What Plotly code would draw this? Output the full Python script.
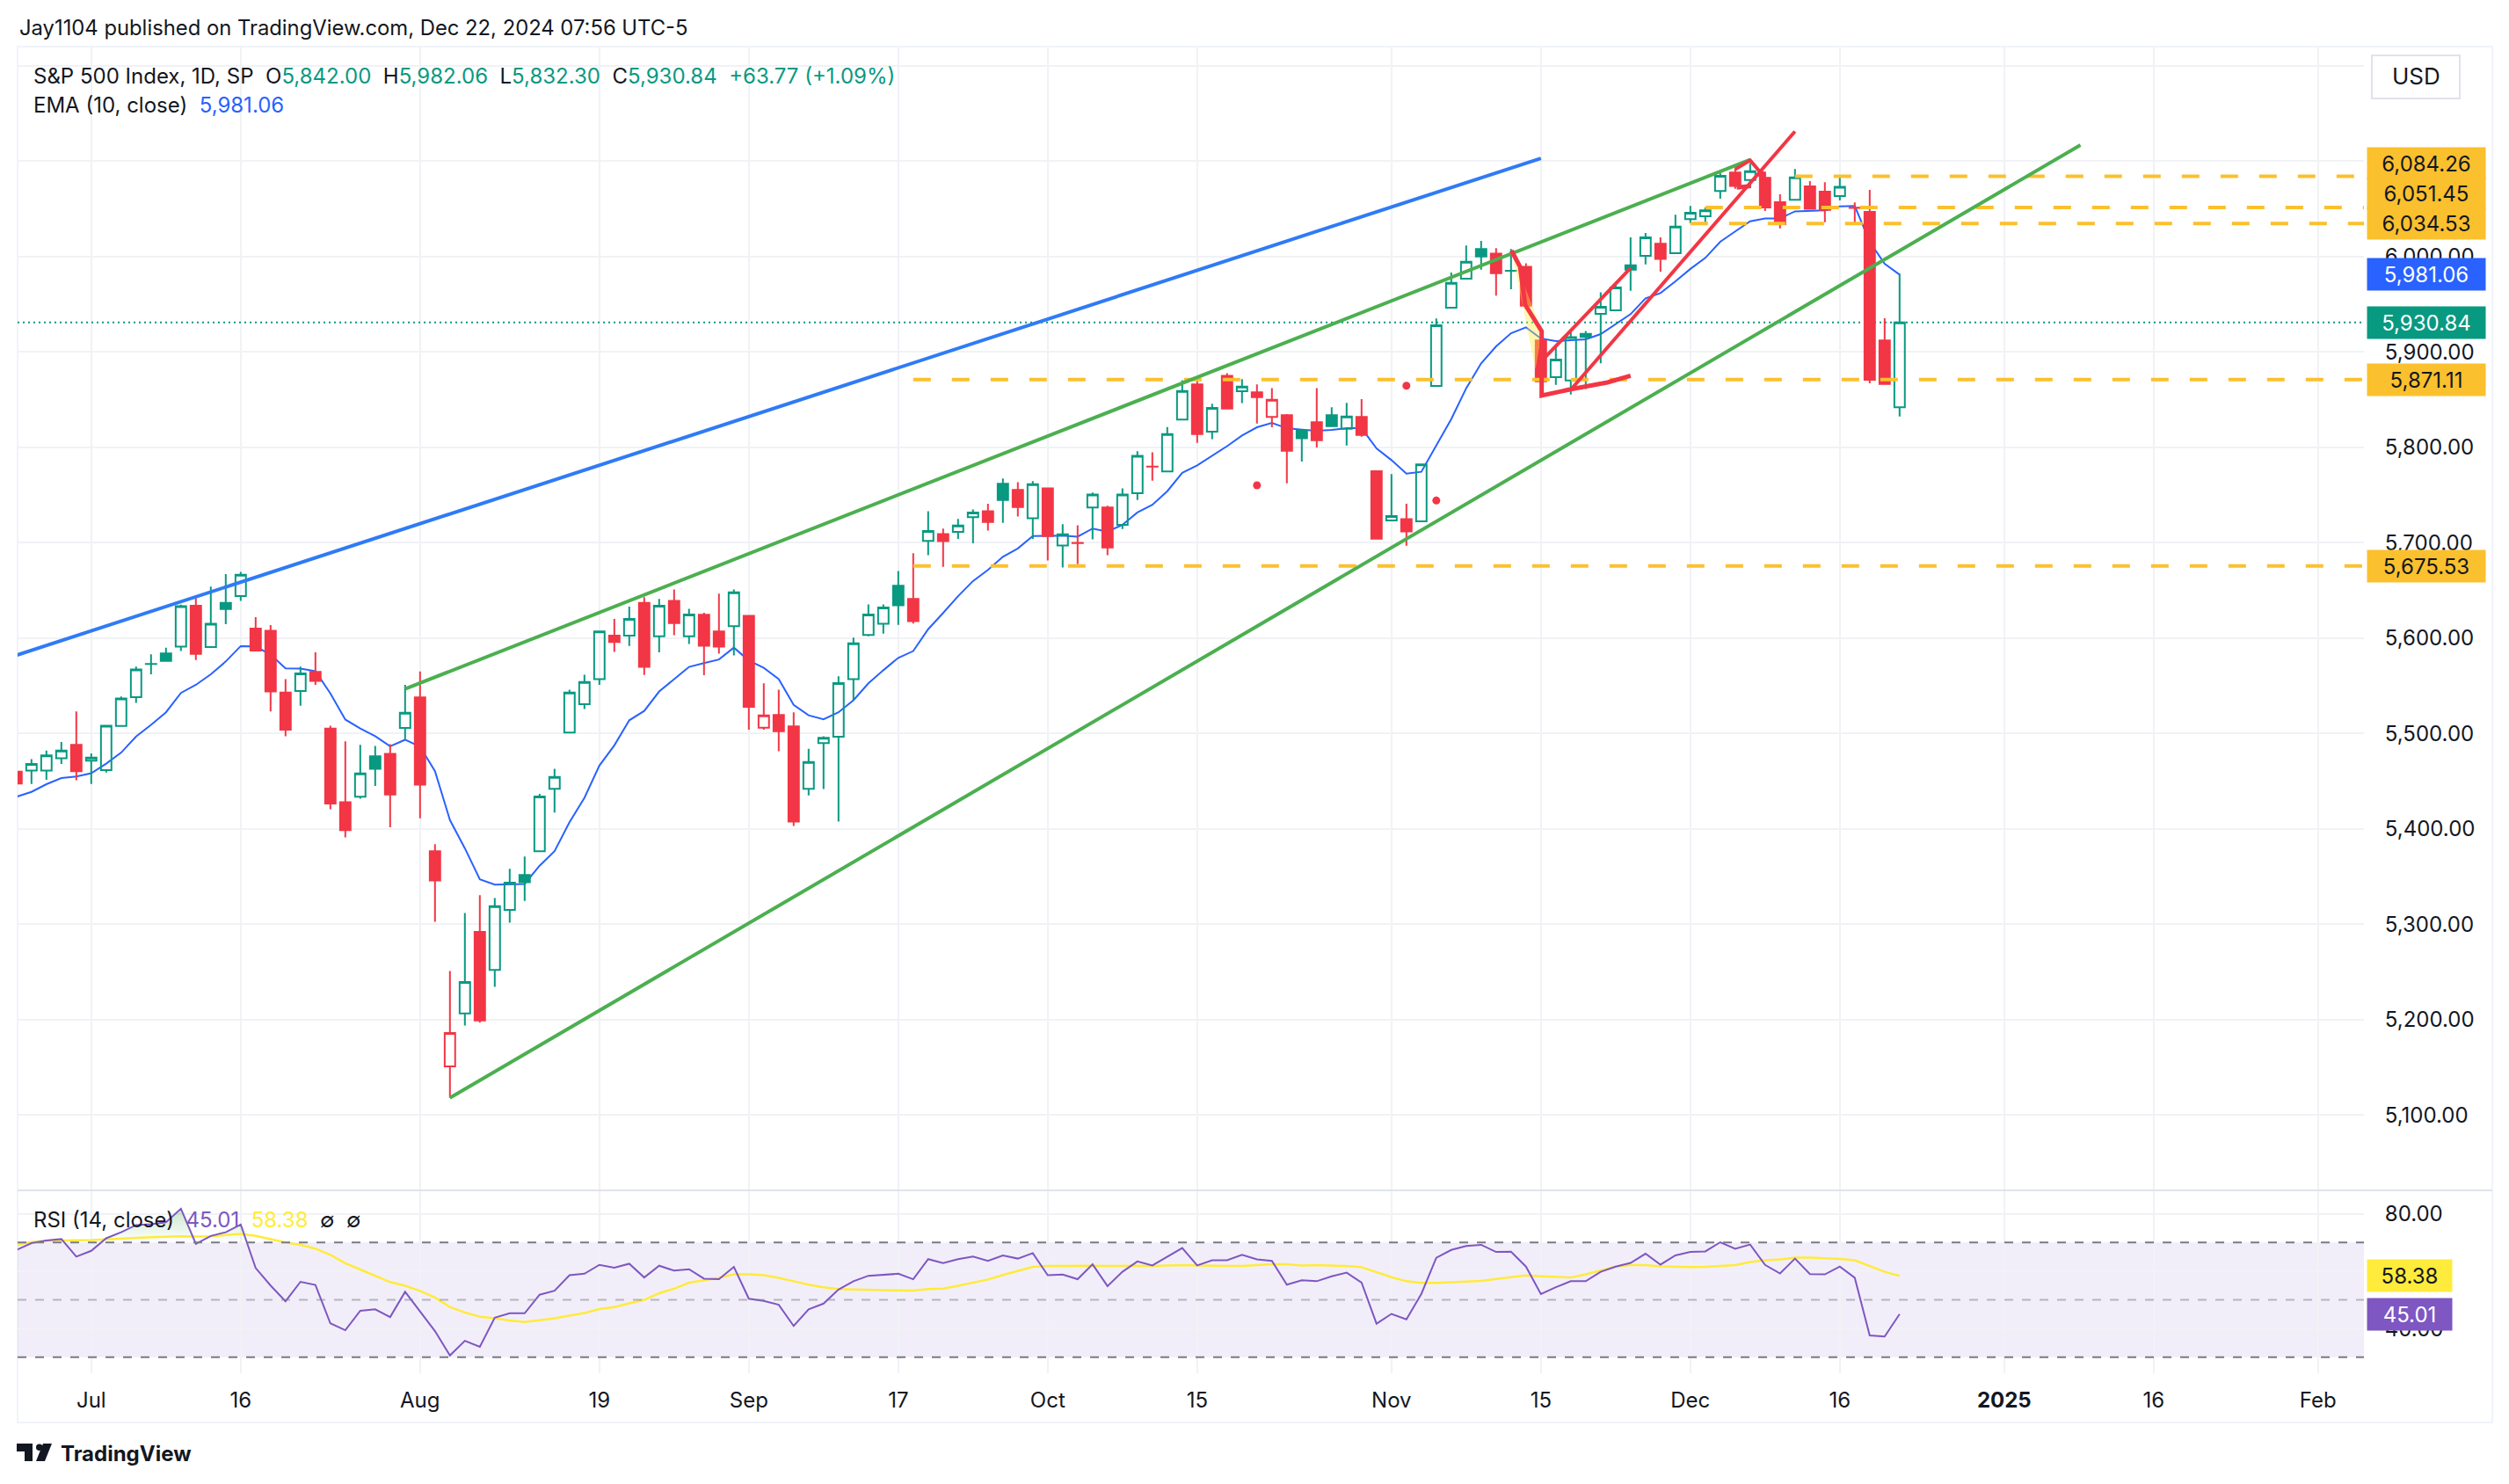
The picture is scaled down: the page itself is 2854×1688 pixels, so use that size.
import numpy as np
import plotly.graph_objects as go

W, H = 2854, 1688

# bar number: 0 is Jul 1 2024, trading days only, 121 is Dec 20
bars = list(range(-5, 122))
opens = [
    5460, 5461, 5461, 5474, 5488, 5471.4, 5461.6, 5507.8, 5538, 5572.8,
    5584, 5591, 5634, 5590.7, 5637, 5644, 5610, 5607.7, 5543, 5544.6,
    5564.5, 5505, 5428, 5433.7, 5476, 5478.6, 5505.7, 5537.8, 5376.6, 5151,
    5206.5, 5292, 5252, 5315, 5351.6, 5376.6, 5442, 5501, 5530.6, 5557,
    5602.6, 5602.6, 5637, 5602, 5639, 5602, 5624.5, 5606.9, 5612.5, 5623.4,
    5506, 5519.4, 5507.4, 5442, 5489.8, 5496.5, 5557, 5603.3, 5615, 5654.8,
    5641, 5702, 5709, 5711.3, 5726.8, 5733, 5761.7, 5755.3, 5725.7, 5757,
    5697, 5699.7, 5737, 5737, 5718.7, 5751.8, 5779.8, 5774.7, 5829, 5866,
    5816.4, 5874.9, 5858.7, 5857.6, 5831.8, 5833.6, 5817.3, 5826.2, 5833.6, 5819.5,
    5831.8, 5774.9, 5723.3, 5724.8, 5722.4, 5864.3, 5946.3, 5976.8, 6007.8, 6003,
    5985.1, 5989.3, 5912, 5873.5, 5870.2, 5919, 5939.9, 5943.6, 5990.9, 6000.7,
    6013.3, 6003.5, 6039.2, 6042.2, 6068.6, 6088, 6080.3, 6082.5, 6057, 6059.4,
    6073.6, 6068, 6063.4, 6051.1, 6046.8, 5912, 5842,
]
highs = [
    5462, 5473, 5482, 5491, 5523, 5479, 5509, 5538.7, 5570, 5583,
    5590, 5635, 5642, 5654, 5667, 5669.5, 5622, 5613.6, 5557, 5570,
    5585, 5508, 5491.7, 5488, 5487, 5488.7, 5551, 5565, 5383.8, 5251,
    5311.8, 5330.5, 5327.5, 5358, 5371, 5436.7, 5463, 5546, 5561.5, 5607,
    5620, 5633, 5642.8, 5641, 5651, 5630.8, 5626.6, 5646.7, 5651, 5623.4,
    5552.5, 5545.8, 5522.2, 5484, 5497, 5560, 5600.5, 5635.4, 5635.4, 5670.3,
    5689, 5733, 5714.8, 5725, 5734.9, 5740.9, 5767.3, 5763.5, 5764.5, 5757,
    5719.4, 5718.3, 5752.5, 5738.8, 5757, 5796, 5794.8, 5821.3, 5870.3, 5869.6,
    5845.6, 5877.7, 5871.4, 5866, 5862, 5834.8, 5817.3, 5862, 5841.9, 5846.5,
    5850.5, 5774.9, 5771.9, 5740.8, 5782.9, 5935, 5983.2, 6011.5, 6016.4, 6008.7,
    6007.8, 5993, 5915, 5907.3, 5922.7, 5922, 5962.6, 5971.5, 6020, 6024.7,
    6020, 6043.8, 6053, 6051.4, 6087.7, 6092.3, 6097.8, 6089, 6065.3, 6091.7,
    6079, 6077.9, 6084.6, 6056.7, 6069.9, 5935.3, 5982.06,
]
lows = [
    5441, 5447, 5451.5, 5468, 5451, 5447, 5459, 5507.8, 5532, 5562,
    5575.5, 5586.5, 5577, 5590, 5614.5, 5639, 5586, 5523, 5497, 5529,
    5551, 5420.6, 5391, 5431.6, 5445, 5401.6, 5494, 5411, 5302.5, 5118,
    5193.8, 5196.7, 5234.4, 5301.7, 5324.5, 5376.6, 5417, 5501, 5525.6, 5551,
    5585.6, 5591.7, 5561.3, 5585, 5603, 5593.8, 5561, 5583.6, 5581.8, 5504,
    5504, 5481.3, 5403, 5435, 5441.8, 5407.6, 5535, 5602, 5604.7, 5613.9,
    5615.3, 5687, 5674.6, 5704, 5699.3, 5712.7, 5720.8, 5727.5, 5704, 5681.3,
    5673.9, 5677.4, 5703.5, 5686.9, 5714.4, 5744.8, 5765, 5774.7, 5829, 5804.7,
    5808.6, 5840.7, 5846.3, 5825, 5821, 5762.3, 5785, 5799.8, 5822.2, 5802,
    5811.2, 5703.7, 5723.3, 5696.9, 5722.4, 5864.3, 5946.3, 5976.8, 5986.3, 5959,
    5965.7, 5948.5, 5853, 5865.5, 5855.4, 5861.2, 5888, 5943.6, 5964.2, 5991.8,
    5984.1, 6003.5, 6034.9, 6033, 6060.7, 6071, 6072, 6047.8, 6029.6, 6059.4,
    6050, 6036.1, 6058.8, 6034.9, 5867.1, 5866.5, 5832.3,
]
closes = [
    5447.6, 5468, 5477, 5482, 5460.4, 5474.8, 5508, 5536.6, 5567, 5572.9,
    5576, 5633.5, 5583.5, 5615, 5630.5, 5666.5, 5587, 5544, 5504, 5563,
    5555, 5426.5, 5398.6, 5458, 5463, 5436, 5521.7, 5446.4, 5346, 5186,
    5239.5, 5199, 5319, 5343.6, 5344, 5434, 5454.5, 5543, 5554, 5607,
    5596, 5620, 5569.8, 5634, 5615.7, 5624.8, 5592, 5591, 5648, 5528,
    5519, 5502.4, 5407.6, 5470, 5495.4, 5552.9, 5594.5, 5624.8, 5632, 5634.4,
    5617.8, 5712.3, 5701.7, 5718, 5731.7, 5721.8, 5744.8, 5737.3, 5761.3, 5707,
    5708.8, 5699.5, 5750.4, 5695, 5750.4, 5791, 5779.7, 5813.9, 5859, 5813.9,
    5841.4, 5840.7, 5863.6, 5852.6, 5849.9, 5796.4, 5809.6, 5807.5, 5822.2, 5832.4,
    5813, 5704.3, 5727.9, 5711.9, 5782, 5927.9, 5972.5, 5994.6, 6000, 5982.6,
    5985, 5948.5, 5869.2, 5892, 5915.6, 5915.8, 5947.3, 5967.5, 5986.3, 6020,
    5997.6, 6031.5, 6045.9, 6048.4, 6084.6, 6073.9, 6089.5, 6051.4, 6034, 6083,
    6050, 6049, 6073, 6051, 5870.8, 5866.5, 5930.84,
]
ema10 = [
    5433.7, 5438.8, 5446.8, 5453.2, 5454.9, 5458.3, 5468.4, 5479.9, 5496.8, 5509,
    5522.2, 5542.5, 5551, 5562, 5575.5, 5591.6, 5591.2, 5582.7, 5568.3, 5567.9,
    5565.3, 5542, 5514.6, 5505.2, 5497.2, 5486.6, 5493.4, 5486.2, 5460.4, 5409.2,
    5379.6, 5347, 5341.5, 5341.9, 5342.3, 5361.4, 5376.6, 5407, 5432.5, 5466.3,
    5487.5, 5513.8, 5523.6, 5544, 5557, 5569.8, 5573.7, 5577.6, 5590, 5576.5,
    5568.8, 5557, 5530, 5519, 5514.8, 5522.2, 5534.9, 5552.5, 5566.3, 5579.3,
    5586.4, 5609.3, 5626.3, 5643.9, 5659.8, 5671.4, 5685.2, 5694, 5707, 5707.4,
    5707.4, 5706.3, 5714.8, 5711.6, 5718.7, 5731.7, 5739.8, 5754, 5773.3, 5781,
    5791, 5801.2, 5812.4, 5821, 5825.6, 5820, 5818.5, 5817.3, 5818.2, 5820,
    5820, 5798.9, 5786.6, 5772.5, 5774.3, 5802, 5829.6, 5861.9, 5888, 5905.8,
    5919.6, 5925.8, 5914, 5911.3, 5912.2, 5913.2, 5918.7, 5929.4, 5939.6, 5956.2,
    5961.7, 5974, 5987, 5998.6, 6015.5, 6026.3, 6037, 6040, 6040, 6047.4,
    6048, 6048.4, 6052.7, 6053, 6015.5, 5992.5, 5981.06,
]
rsi14 = [
    67.4, 69.8, 70.7, 71.2, 65.1, 67.1, 71.5, 73.6, 76.1, 76.4,
    77.1, 81.8, 69.5, 72.3, 73.6, 76.3, 61.1, 55, 49.5, 56.3,
    55.2, 41.8, 39.4, 46.2, 46.7, 44, 52.8, 46, 39.1, 30.6,
    35.7, 33.6, 43.8, 45.3, 45.3, 51.8, 53.2, 58.6, 59.1, 62.2,
    61.2, 62.6, 57.8, 61.9, 60.2, 60.7, 57.4, 57.2, 61.5, 50.4,
    49.6, 48.3, 40.9, 46.7, 48.7, 53.6, 56.5, 58.4, 58.8, 59.1,
    57.2, 64.2, 62.8, 64.2, 65.1, 63.6, 65.5, 64.4, 66.3, 58.6,
    58.8, 57.2, 62.4, 54.8, 59.8, 63.4, 62, 65.1, 68.1, 62,
    63.8, 63.8, 65.7, 64.1, 63.6, 55.3, 56.8, 56.5, 58.2, 59.5,
    56, 41.7, 45.1, 43.2, 52.1, 64.7, 67.4, 68.8, 69.2, 66.7,
    66.8, 61.6, 52, 54.4, 56.5, 56.5, 59.8, 61.6, 62.9, 66.1,
    62.3, 65.5, 66.7, 66.9, 70.1, 67.8, 69.3, 62.2, 59.2, 64.4,
    59, 58.9, 61.6, 57.7, 37.6, 37.2, 45.01,
]
rsi_ma = [
    69.2, 70.2, 70.6, 70.8, 70.8, 70.9, 71.2, 71.5, 71.7, 71.9,
    72, 72.2, 72.1, 72.2, 72.6, 73, 72.3, 71.2, 70, 69.2,
    67.9, 65.7, 62.8, 60.6, 58.5, 56.2, 54.9, 53.1, 50.8, 47.5,
    45.6, 44.1, 43.6, 42.8, 42.3, 42.9, 43.6, 44.5, 45.4, 46.8,
    47.5, 48.8, 50, 52.3, 53.9, 56, 56.9, 57.7, 58.9, 58.9,
    58.6, 57.7, 56.5, 55.3, 54.4, 53.8, 53.6, 53.5, 53.5, 53.2,
    53.2, 53.8, 53.9, 54.9, 56, 57.1, 58.7, 60.2, 61.5, 61.8,
    61.9, 61.8, 61.9, 61.8, 61.9, 61.9, 61.8, 62, 62.1, 62,
    61.8, 61.8, 61.8, 62.1, 62.4, 62.4, 62, 62.1, 62, 61.8,
    61.4, 59.6, 57.9, 56.5, 55.9, 55.9, 56.1, 56.3, 56.6, 57.3,
    57.9, 58.5, 58.2, 57.9, 57.8, 58.9, 60.2, 61.6, 62.1, 62.1,
    61.7, 61.5, 61.4, 61.5, 61.8, 62.1, 63.2, 63.8, 64.1, 64.7,
    64.7, 64.5, 64.3, 63.8, 61.8, 59.8, 58.38,
]

price_ticks = [5100, 5200, 5300, 5400, 5500, 5600, 5700, 5800, 5900, 6000, 6100, 6200]
price_tick_text = ["5,100.00", "5,200.00", "5,300.00", "5,400.00", "5,500.00", "5,600.00",
                   "5,700.00", "5,800.00", "5,900.00", "6,000.00", "", ""]
rsi_ticks = [40, 60, 80]
rsi_tick_text = ["40.00", "60.00", "80.00"]
time_ticks = [0, 10, 22, 34, 44, 54, 64, 74, 87, 97, 107, 117, 128, 138, 149]
time_tick_text = ["Jul", "16", "Aug", "19", "Sep", "17", "Oct", "15", "Nov", "15", "Dec", "16",
                  "<b>2025</b>", "16", "Feb"]

# horizontal rays: price and the bar they start on
level_prices = [6084.26, 6051.45, 6034.53, 5871.11, 5675.53]
level_starts = [114, 108, 107, 55, 55]
last_close = 5930.84

# hand drawn trend lines
blue_x = [-5, 97]
blue_y = [5582, 6103]
green_top_x = [21, 111]
green_top_y = [5546.7, 6101.5]
green_low_x = [24, 133.1]
green_low_y = [5118, 6116.9]
red_fall_x = [95.03, 95.6, 95.95, 96.5, 97.05, 97.05, 99, 101.45, 103]
red_fall_y = [6006.3, 5989.4, 5949.4, 5935.6, 5921.8, 5854.2, 5860.9, 5868, 5875.1]
red_up_x = [97.27, 103]
red_up_y = [5894.2, 5987.9]
red_long_x = [99, 114]
red_long_y = [5860.4, 6131.2]
red_top_x = [110, 111, 111.8]
red_top_y = [6091.4, 6100.9, 6086.2]
red_dab_x = [110.1, 111.05]
red_dab_y = [6072.3, 6073.9]
red_dots_x = [78, 88, 90, 111.8]
red_dots_y = [5760.2, 5864.6, 5744.2, 6085.5]
yellow_x = [95.07, 96.64, 97.07]
yellow_y = [6003.2, 5881.8, 5921.8]

GREEN = "#089981"
RED = "#f23645"
BLUE = "#2962ff"
AMBER = "#fbc02d"
TEXT = "#131722"
GRID = "#f0f2f6"
FONT = "Inter"

X_MIN, X_MAX = (20 - 103.8) / 17, (2689 - 103.8) / 17


def px(x):
    return x / W


def py(y):
    return 1 - y / H


closes_arr = np.array(closes)
prev_close = np.concatenate(([opens[0] + 1], closes_arr[:-1]))
is_hollow = closes_arr > np.array(opens)
is_up = closes_arr >= prev_close

fig = go.Figure()

# EMA and last price go under the candles
fig.add_trace(go.Scatter(x=bars, y=ema10, mode="lines", zorder=-1, line=dict(color=BLUE, width=2)))
fig.add_trace(go.Scatter(x=[X_MIN, X_MAX], y=[last_close, last_close], mode="lines", zorder=-1,
                         line=dict(color=GREEN, width=2, dash="2px,4px")))

for hollow in (True, False):
    for up in (True, False):
        idx = np.where((is_hollow == hollow) & (is_up == up))[0]
        color = GREEN if up else RED
        side = dict(line=dict(color=color, width=2), fillcolor="rgba(0,0,0,0)" if hollow else color)
        fig.add_trace(go.Candlestick(
            x=[bars[i] for i in idx],
            open=[opens[i] for i in idx],
            high=[highs[i] for i in idx],
            low=[lows[i] for i in idx],
            close=[closes[i] for i in idx],
            increasing=side, decreasing=side, hoverinfo="skip",
        ))

for price, start in zip(level_prices, level_starts):
    fig.add_trace(go.Scatter(x=[start, X_MAX], y=[price, price], mode="lines",
                             line=dict(color=AMBER, width=4, dash="20px,24px")))

fig.add_trace(go.Scatter(x=yellow_x, y=yellow_y, mode="lines", fill="toself", line=dict(width=0),
                         fillcolor="rgba(255,235,59,0.4)"))
fig.add_trace(go.Scatter(x=blue_x, y=blue_y, mode="lines", line=dict(color="#2f7bf6", width=4)))
fig.add_trace(go.Scatter(x=green_top_x, y=green_top_y, mode="lines", line=dict(color="#4caf50", width=4)))
fig.add_trace(go.Scatter(x=green_low_x, y=green_low_y, mode="lines", line=dict(color="#4caf50", width=4)))
fig.add_trace(go.Scatter(x=red_fall_x, y=red_fall_y, mode="lines",
                         line=dict(color=RED, width=5, shape="linear")))
fig.add_trace(go.Scatter(x=red_up_x, y=red_up_y, mode="lines", line=dict(color=RED, width=4)))
fig.add_trace(go.Scatter(x=red_long_x, y=red_long_y, mode="lines", line=dict(color=RED, width=4)))
fig.add_trace(go.Scatter(x=red_top_x, y=red_top_y, mode="lines", line=dict(color=RED, width=4)))
fig.add_trace(go.Scatter(x=red_dab_x, y=red_dab_y, mode="lines", line=dict(color=RED, width=5)))
fig.add_trace(go.Scatter(x=red_dots_x, y=red_dots_y, mode="markers", marker=dict(color=RED, size=9)))

# RSI pane
fig.add_trace(go.Scatter(x=bars, y=[70] * len(bars), mode="lines", line=dict(width=0),
                         xaxis="x2", yaxis="y2"))
fig.add_trace(go.Scatter(x=bars, y=np.maximum(rsi14, 70), mode="lines", line=dict(width=0), fill="tonexty",
                         fillgradient=dict(type="vertical",
                                           colorscale=[[0, "rgba(76,175,80,0)"], [1, "rgba(76,175,80,0.3)"]]),
                         xaxis="x2", yaxis="y2"))
fig.add_trace(go.Scatter(x=bars, y=rsi_ma, mode="lines", line=dict(color="#ffeb3b", width=2.5),
                         xaxis="x2", yaxis="y2"))
fig.add_trace(go.Scatter(x=bars, y=rsi14, mode="lines", line=dict(color="#7e57c2", width=2),
                         xaxis="x2", yaxis="y2"))

shapes = [
    dict(type="rect", xref="x2", yref="y2", x0=X_MIN, x1=X_MAX, y0=30, y1=70, layer="below",
         line=dict(width=0), fillcolor="rgba(126,87,194,0.1)"),
    dict(type="line", xref="x2", yref="y2", x0=X_MIN, x1=X_MAX, y0=70, y1=70,
         line=dict(color="#787b86", width=2, dash="10px,10px")),
    dict(type="line", xref="x2", yref="y2", x0=X_MIN, x1=X_MAX, y0=50, y1=50,
         line=dict(color="rgba(120,123,134,0.5)", width=2, dash="10px,10px")),
    dict(type="line", xref="x2", yref="y2", x0=X_MIN, x1=X_MAX, y0=30, y1=30,
         line=dict(color="#787b86", width=2, dash="10px,10px")),
    # frame and pane separator
    dict(type="rect", xref="paper", yref="paper", x0=px(20), x1=px(2835), y0=py(1618), y1=py(53),
         line=dict(color="#f0f3fa", width=2), layer="below"),
    dict(type="line", xref="paper", yref="paper", x0=px(20), x1=px(2835), y0=py(1354), y1=py(1354),
         line=dict(color="#e0e3eb", width=2)),
    # USD button
    dict(type="rect", xref="paper", yref="paper", x0=px(2698), x1=px(2798), y0=py(112), y1=py(63),
         line=dict(color="#e0e3eb", width=2), fillcolor="white"),
]

# TradingView logo
logo_paths = [
    [(19, 1642), (37, 1642), (37, 1662), (28, 1662), (28, 1651), (19, 1651)],
    [(49, 1642), (59, 1642), (51, 1662), (41, 1662)],
]
for pts in logo_paths:
    path = "M " + " L ".join(f"{px(a):.5f},{py(b):.5f}" for a, b in pts) + " Z"
    shapes.append(dict(type="path", xref="paper", yref="paper", path=path, fillcolor=TEXT, line=dict(width=0)))
shapes.append(dict(type="circle", xref="paper", yref="paper", x0=px(41), x1=px(48.5), y0=py(1650), y1=py(1642.5),
                   fillcolor=TEXT, line=dict(width=0)))


def text_note(x, y, text, size=24, color=TEXT, anchor="left"):
    return dict(xref="paper", yref="paper", x=px(x), y=py(y), xanchor=anchor, yanchor="middle", showarrow=False,
                text=text, font=dict(family=FONT, size=size, color=color))


def tag(value, text, bg, fg, yref="y", shift=0, width=132):
    return dict(xref="paper", yref=yref, x=px(2692), y=value, xanchor="left", yanchor="middle", showarrow=False,
                text=text, width=width, height=34, align="center", valign="middle", bgcolor=bg, yshift=shift,
                font=dict(family=FONT, size=24, color=fg))


def colored(text, color):
    return f'<span style="color:{color}">{text}</span>'


gap = "\u00a0\u00a0"
ohlc_line = (
    f"S&amp;P 500 Index, 1D, SP{gap}O" + colored("5,842.00", GREEN) + f"{gap}H" + colored("5,982.06", GREEN)
    + f"{gap}L" + colored("5,832.30", GREEN) + f"{gap}C" + colored("5,930.84", GREEN)
    + gap + colored("+63.77 (+1.09%)", GREEN)
)
ema_line = f"EMA (10, close){gap}" + colored("5,981.06", BLUE)
rsi_line = f"RSI (14, close){gap}" + colored("45.01", "#7e57c2") + gap + colored("58.38", "#ffeb3b") + f"{gap}∅{gap}∅"

annotations = [
    text_note(20, 32, "Jay1104 published on TradingView.com, Dec 22, 2024 07:56 UTC-5", size=23.8),
    text_note(36, 87, ohlc_line),
    text_note(36, 120, ema_line),
    text_note(36, 1387, rsi_line),
    text_note(2748, 87, "USD", size=26, anchor="center"),
    text_note(67, 1653, "<b>TradingView</b>", size=24),
    tag(level_prices[0], "6,084.26", AMBER, TEXT, shift=14),
    tag(level_prices[1], "6,051.45", AMBER, TEXT, shift=16),
    tag(level_prices[2], "6,034.53", AMBER, TEXT),
    tag(ema10[-1], "5,981.06", BLUE, "white"),
    tag(last_close, "5,930.84", GREEN, "white"),
    tag(level_prices[3], "5,871.11", AMBER, TEXT),
    tag(level_prices[4], "5,675.53", AMBER, TEXT),
    tag(rsi_ma[-1], "58.38", "#ffeb3b", TEXT, yref="y2", width=94),
    tag(rsi14[-1], "45.01", "#7e57c2", "white", yref="y2", width=94),
]

x_dom = [px(20), px(2689)]
fig.update_layout(
    width=W, height=H, autosize=False,
    margin=dict(l=0, r=0, t=0, b=0),
    paper_bgcolor="white", plot_bgcolor="white",
    showlegend=False, hovermode=False, boxmode="overlay", boxgap=0.3, boxgroupgap=0,
    font=dict(family=FONT, size=24, color=TEXT),
    shapes=shapes, annotations=annotations,
    xaxis=dict(type="linear", domain=x_dom, range=[X_MIN, X_MAX], anchor="y", rangeslider=dict(visible=False),
               tickmode="array", tickvals=time_ticks, showticklabels=False, ticks="",
               showgrid=True, gridcolor=GRID, gridwidth=2, zeroline=False, showline=False),
    yaxis=dict(domain=[py(1354), py(53)], range=[5021, 6220.1], anchor="x", side="right",
               tickmode="array", tickvals=price_ticks, ticktext=price_tick_text,
               ticks="outside", ticklen=18, tickcolor="rgba(0,0,0,0)",
               showgrid=True, gridcolor=GRID, gridwidth=2, zeroline=False, showline=False,
               tickfont=dict(family=FONT, size=24, color=TEXT)),
    xaxis2=dict(type="linear", domain=x_dom, range=[X_MIN, X_MAX], anchor="y2",
                tickmode="array", tickvals=time_ticks, ticktext=time_tick_text,
                ticks="outside", ticklen=9, tickcolor="rgba(0,0,0,0)",
                showgrid=True, gridcolor=GRID, gridwidth=2, zeroline=False, showline=False,
                tickangle=0, tickfont=dict(family=FONT, size=24, color=TEXT)),
    yaxis2=dict(domain=[py(1562), py(1354)], range=[24.4, 88.2], anchor="x2", side="right",
                tickmode="array", tickvals=rsi_ticks, ticktext=rsi_tick_text,
                ticks="outside", ticklen=18, tickcolor="rgba(0,0,0,0)",
                showgrid=True, gridcolor=GRID, gridwidth=2, zeroline=False, showline=False,
                tickfont=dict(family=FONT, size=24, color=TEXT)),
)

fig.write_html("out.html", config={"displayModeBar": False},
               post_script="document.body.style.margin='0';document.body.style.overflow='hidden';")
